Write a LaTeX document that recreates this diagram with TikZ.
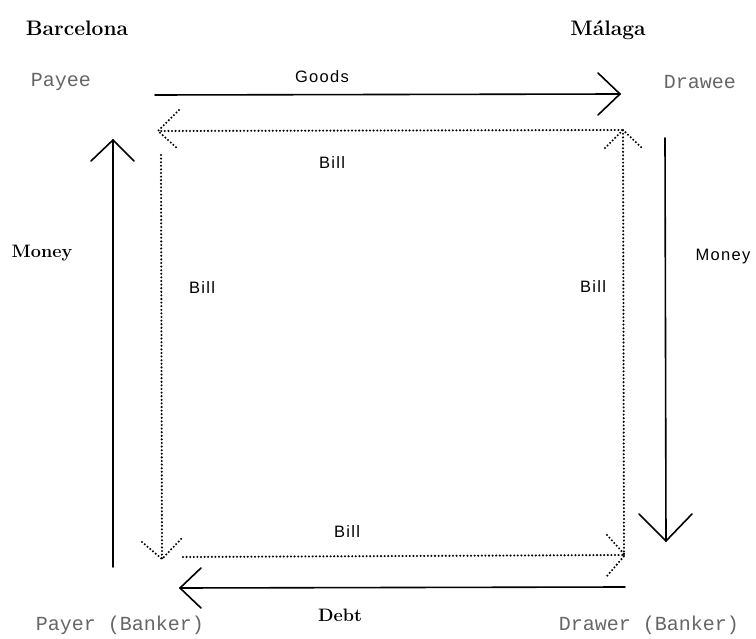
\documentclass[tikz,border=0pt]{standalone}
\usepackage{fontspec}
\newfontfamily\flowfont[LetterSpace=8]{Liberation Sans}
\newfontfamily\partyfont{Liberation Mono}
\usetikzlibrary{calc}

% open "V" arrow head: style, tip, offset of first wing, offset of second wing
\newcommand\drawhead[4]{\draw[#1] ($(#2)+(#3)$) -- (#2) -- ($(#2)+(#4)$);}

\tikzset{
  flow/.style={line width=1.6pt, line cap=round},
  billflow/.style={line width=2.3pt, line cap=round, dash pattern=on 0pt off 3.6pt},
  city/.style={font=\fontsize{21}{24}\selectfont\bfseries},
  party/.style={font=\fontsize{20}{23}\selectfont\partyfont, text=black!60},
  flowlabel/.style={font=\fontsize{16.5}{19}\selectfont\flowfont},
  boldlabel/.style={font=\fontsize{18}{21}\selectfont\bfseries},
}

\begin{document}
\begin{tikzpicture}[x=1pt,y=-1pt]
\useasboundingbox (0,0) rectangle (756,639);

% places and parties
\node[city] (bcn) at (77,28) {Barcelona};
\node[city] (mlg) at (608,30) {Málaga};
\node[party] (payee)  at (61,82)   {Payee};
\node[party] (drawee) at (700,82)  {Drawee};
\node[party] (payer)  at (120,625) {Payer (Banker)};
\node[party] (drawer) at (649,625) {Drawer (Banker)};

% end points of the flows
\coordinate (goodsA) at (155,95);   \coordinate (goodsB) at (620,94);
\coordinate (billTA) at (622,130);  \coordinate (billTB) at (158,131);
\coordinate (billRA) at (624,555);  \coordinate (billRB) at (623,130);
\coordinate (billLA) at (161,155);  \coordinate (billLB) at (162,559);
\coordinate (billBA) at (183,557);  \coordinate (billBB) at (625,555);
\coordinate (debtA)  at (625,587);  \coordinate (debtB)  at (180,588);
\coordinate (monLA)  at (113,567);  \coordinate (monLB)  at (113,140);
\coordinate (monRA)  at (665,138);  \coordinate (monRB)  at (666,541);

% goods: Barcelona -> Malaga
\draw[flow] (goodsA) -- (goodsB);
\drawhead{flow}{goodsB}{-22,-21}{-22,21}
\node[flowlabel] at (322,77) {Goods};

% the bill travels round the square
\draw[billflow] (billRA) -- (billRB);
\drawhead{billflow}{billRB}{-18,18}{19,18}
\draw[billflow] (billTA) -- (billTB);
\drawhead{billflow}{billTB}{21,-21}{20,18}
\draw[billflow] (billLA) -- (billLB);
\drawhead{billflow}{billLB}{-20,-17}{20,-21}
\draw[billflow] (billBA) -- (billBB);
\drawhead{billflow}{billBB}{-18,-20}{-18,21}

\node[flowlabel] at (332,163) {Bill};
\node[flowlabel] at (202,288) {Bill};
\node[flowlabel] at (593,287) {Bill};
\node[flowlabel] at (347,532) {Bill};

% money and debt
\draw[flow] (monLA) -- (monLB);
\drawhead{flow}{monLB}{-22,21}{21,21}
\node[boldlabel] at (42,253) {Money};

\draw[flow] (monRA) -- (monRB);
\drawhead{flow}{monRB}{-27,-27}{26,-27}
\node[flowlabel] at (723,257) {Money};

\draw[flow] (debtA) -- (debtB);
\drawhead{flow}{debtB}{21,-20}{21,20}
\node[boldlabel] at (340,615) {Debt};
\end{tikzpicture}
\end{document}
